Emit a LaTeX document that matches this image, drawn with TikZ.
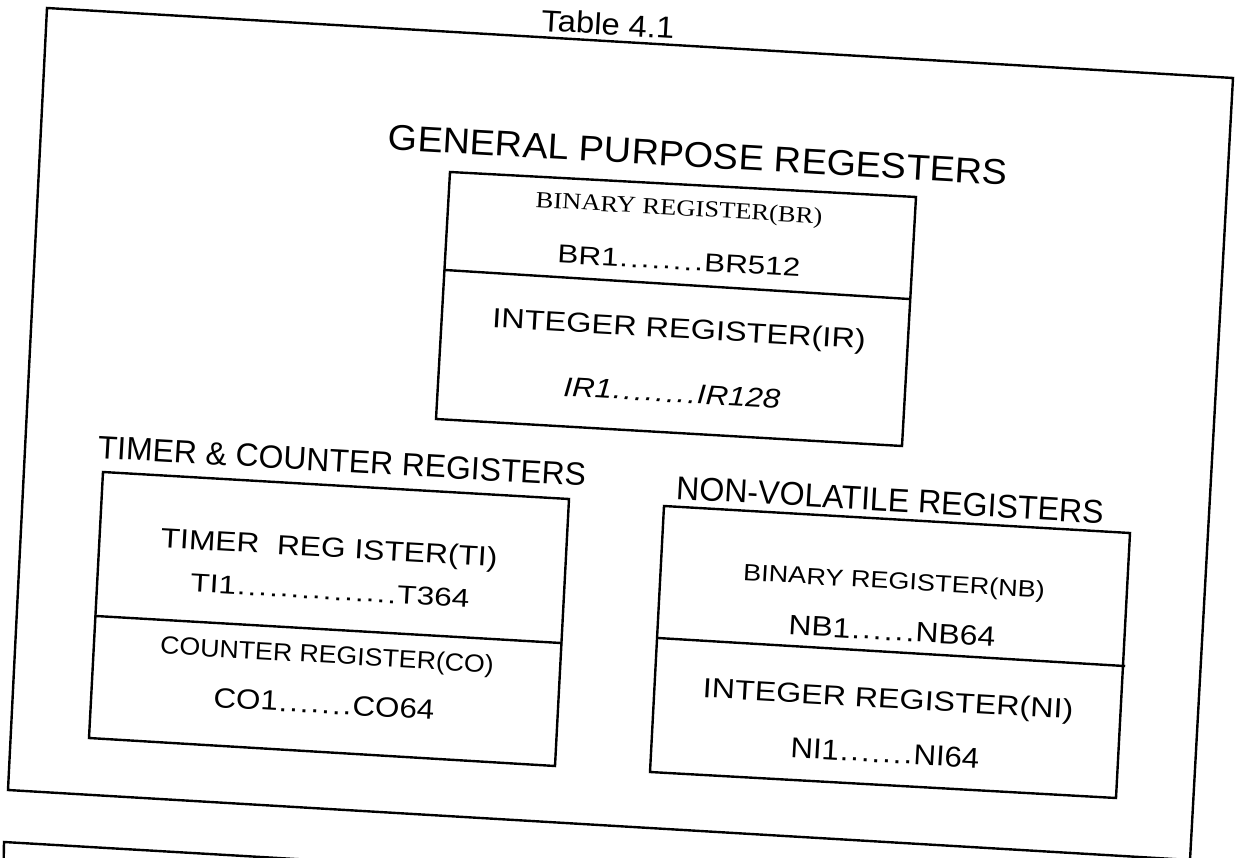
\documentclass[tikz,border=0pt]{standalone}
\usepackage{fontspec}
\setmainfont{Liberation Sans}
\newfontfamily\serifface{Liberation Serif}
\usepackage{graphicx}

% text squeezed into a given width and cap height (in pt)
\newcommand\fitbox[3]{\resizebox{#1pt}{#2pt}{#3}}
% a run of #1 evenly spaced dots
\newcommand\dotrun[1]{\xleaders\hbox to .34em{\hss.\hss}\hskip\dimexpr .34em*#1+.1pt\relax}

\begin{document}
\begin{tikzpicture}[x=1pt,y=-1pt,
  frame/.style={line width=2.4pt, line join=miter, line cap=rect},
  lbl/.style={rotate=-3.3, inner sep=0pt}]
\useasboundingbox (0,0) rectangle (1237,858);
\clip (0,0) rectangle (1237,858);
\fill[white] (0,0) rectangle (1237,858);

% ---- outer frame of the table
\coordinate (o1) at (47,8);
\coordinate (o2) at (1233,78);
\coordinate (o3) at (1190,860);
\coordinate (o4) at (8,790);
\draw[frame] (o1) -- (o2) -- (o3) -- (o4) -- cycle;

% ---- next frame, running off the page
\coordinate (n1) at (4,842);
\coordinate (n2) at (1237,914);
\coordinate (n3) at (3,900);
\draw[frame] (n3) -- (n1) -- (n2);

\node[lbl] (cap) at (608,24) {\fitbox{133}{22}{Table 4.1}};

% ---- general purpose registers
\coordinate (g1) at (450,172);
\coordinate (g2) at (916,197);
\coordinate (g3) at (902,446);
\coordinate (g4) at (436,419);
\coordinate (gl) at (445,270);
\coordinate (gr) at (909,299);
\draw[frame] (g1) -- (g2) -- (g3) -- (g4) -- cycle;
\draw[frame] (gl) -- (gr);
\node[lbl] (gt) at (698,155) {\fitbox{620}{25}{GENERAL PURPOSE REGESTERS}};
\node[lbl] (br) at (679,210) {\fitbox{287}{16}{\serifface BINARY REGISTER(BR)}};
\node[lbl] (brr) at (679,261) {\fitbox{243}{18}{BR1\dotrun{8}BR512}};
\node[lbl] (ir) at (679,331) {\fitbox{374}{20}{INTEGER REGISTER(IR)}};
\node[lbl] (irr) at (672,393) {\fitbox{217}{19}{\itshape IR1\dotrun{8}IR128}};

% ---- timer and counter registers
\coordinate (t1) at (103,472);
\coordinate (t2) at (569,499);
\coordinate (t3) at (555,766);
\coordinate (t4) at (89,738);
\coordinate (tl) at (96,616);
\coordinate (tr) at (561,643);
\draw[frame] (t1) -- (t2) -- (t3) -- (t4) -- cycle;
\draw[frame] (tl) -- (tr);
\node[lbl] (tt) at (342,461) {\fitbox{489}{22.5}{TIMER \& COUNTER REGISTERS}};
\node[lbl] (ti) at (329,550) {\fitbox{337}{20}{TIMER\ \ REG ISTER(TI)}};
\node[lbl] (tir) at (330,591) {\fitbox{279}{18}{TI1\dotrun{15}T364}};
\node[lbl] (co) at (327,657) {\fitbox{334}{18}{COUNTER REGISTER(CO)}};
\node[lbl] (cor) at (324,704) {\fitbox{221}{19.5}{CO1\dotrun{7}CO64}};

% ---- non-volatile registers
\coordinate (v1) at (664,506);
\coordinate (v2) at (1130,533);
\coordinate (v3) at (1116,798);
\coordinate (v4) at (650,772);
\coordinate (vl) at (658,638);
\coordinate (vr) at (1124,666);
\draw[frame] (v1) -- (v2) -- (v3) -- (v4) -- cycle;
\draw[frame] (vl) -- (vr);
\node[lbl] (vt) at (890,500) {\fitbox{428}{23}{NON-VOLATILE REGISTERS}};
\node[lbl] (nb) at (894,583) {\fitbox{302}{17}{BINARY REGISTER(NB)}};
\node[lbl] (nbr) at (892,631) {\fitbox{207}{19.5}{NB1\dotrun{6}NB64}};
\node[lbl] (ni) at (888,701) {\fitbox{371}{20}{INTEGER REGISTER(NI)}};
\node[lbl] (nir) at (885,753) {\fitbox{189}{20}{NI1\dotrun{7}NI64}};
\end{tikzpicture}
\end{document}
